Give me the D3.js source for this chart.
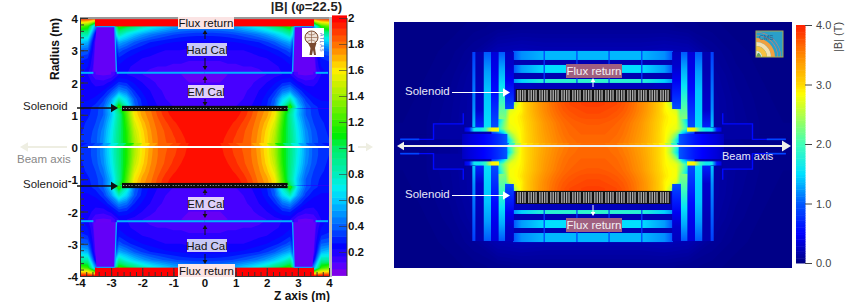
<!DOCTYPE html>
<html>
<head>
<meta charset="utf-8">
<script src="https://cdn.jsdelivr.net/npm/d3@7"></script>
<style>
  body { margin: 0; background: #fff; }
  svg { display: block; font-family: "Liberation Sans", Arial, sans-serif; }
  .soft { filter: blur(0.45px); }
  .softer { filter: blur(0.6px); }
  .atlas-axis text { font-weight: bold; font-size: 11.5px; fill: #111; }
  .atlas-axis line, .atlas-axis path { stroke: #333; }
</style>
</head>
<body>
<div id="chart"></div>
<script>
// ---- left panel: field, one quadrant (z = 0..4 m, 0.25 m steps)
var atlasBoreR0 = 0, atlasBoreStep = 0.25;
var atlasBore = [
  [2.0, 2.0, 1.96, 1.92, 1.88, 1.84, 1.8, 1.72, 1.6, 1.42, 1.15, .95, .72, .5, .38, .33, .3],
  [2.0, 2.0, 1.97, 1.93, 1.89, 1.85, 1.8, 1.73, 1.61, 1.43, 1.15, .95, .7, .5, .38, .33, .3],
  [2.0, 2.0, 1.98, 1.95, 1.91, 1.86, 1.81, 1.74, 1.63, 1.47, 1.16, .94, .68, .48, .37, .32, .29],
  [2.0, 2.0, 2.0, 1.97, 1.94, 1.89, 1.83, 1.76, 1.67, 1.53, 1.2, .92, .64, .44, .35, .31, .28],
  [2.0, 2.0, 2.0, 2.0, 1.97, 1.93, 1.86, 1.78, 1.72, 1.6, 1.25, .9, .58, .4, .33, .29, .27],
  [2.0, 2.0, 2.0, 2.0, 1.98, 1.95, 1.88, 1.8, 1.74, 1.62, 1.3, 1.05, .6, .4, .32, .28, .27]
];
var atlasOuterR0 = 1, atlasOuterStep = 0.25;
var atlasOuter = [
  [.2, .2, .2, .2, .2, .22, .25, .3, .4, .55, .8, 1.05, .62, .42, .35, .3, .28],
  [.13, .13, .13, .14, .15, .17, .2, .24, .3, .42, .8, 1.2, .62, .4, .32, .28, .27],
  [.12, .12, .12, .13, .14, .15, .18, .22, .28, .38, .62, .8, .5, .33, .26, .24, .24],
  [.11, .11, .11, .12, .13, .14, .16, .2, .24, .3, .42, .48, .34, .25, .22, .22, .23],
  [.1, .1, .1, .11, .12, .13, .14, .17, .2, .24, .29, .31, .22, .17, .18, .22, .25],
  [.09, .09, .09, .1, .1, .11, .12, .13, .15, .18, .2, .2, .1, .09, .1, .2, .26],
  [.13, .13, .13, .14, .14, .15, .15, .16, .17, .19, .21, .24, .1, .09, .1, .25, .27],
  [.16, .16, .16, .17, .17, .17, .18, .19, .2, .22, .25, .29, .1, .09, .1, .3, .32],
  [.19, .19, .19, .2, .2, .2, .21, .23, .25, .28, .32, .38, .1, .09, .1, .4, .42],
  [.23, .23, .23, .24, .25, .26, .28, .3, .34, .39, .47, .54, .1, .09, .1, .55, .6],
  [.32, .32, .33, .34, .36, .39, .42, .46, .52, .6, .7, .85, .3, .1, .2, .85, .85],
  [.5, .5, .5, .52, .56, .62, .68, .76, .85, 1.0, 1.1, 1.2, .5, .5, .5, 1.2, 1.3],
  [2, 2, 2, 2, 2, 2, 2, 2, 2, 2, 2, 2, 2, 2, 2, 2, 2]
];
var atlasStops = [0.02, .1, .25, .4, .6, .7, .8, 1.0, 1.1, 1.4, 1.6, 1.8, 2];
var atlasColors = ["#9000e0", "#5500ff", "#0000ff", "#0060ff", "#00ccff", "#00f0f0", "#00eebb", "#00ee66", "#00ee00", "#a0f000", "#ffee00", "#ff7000", "#ff0000"];
var atlasPillar = [[2.83, 2.33], [2.88, 3.73], [3.47, 3.73], [3.57, 2.33]];
var atlasCryostat = [[0, 2.82], [3.57, 3.97]];
var atlasBars = {rIn: 3.74, rOut: 4, zMax: 3.52, value: 2, pillar: .08, edge: .55, cryoR: 2.3};
var atlasColorTicks = [.2, .4, .6, .8, 1, 1.2, 1.4, 1.6, 1.8, 2];

// ---- right panel: same idea, z = 0..8.5 m in 0.5 m steps, r = 0..4 m in 0.5 m steps
var cmsBoreStepZ = 0.5, cmsBoreStepR = 0.5;
var cmsBore = [
  [3.65, 3.65, 3.65, 3.62, 3.6, 3.55, 3.5, 3.42, 3.35, 3.25, 3.15, 3.02, 2.9, 2.55, 1.9, 1.1, .7, .6],
  [3.66, 3.66, 3.66, 3.64, 3.62, 3.57, 3.52, 3.44, 3.36, 3.26, 3.15, 3.02, 2.9, 2.5, 1.7, .9, .7, .6],
  [3.68, 3.68, 3.68, 3.66, 3.64, 3.6, 3.54, 3.46, 3.38, 3.28, 3.16, 3.02, 2.9, 2.7, 2.3, 1.2, .8, .7],
  [3.7, 3.7, 3.7, 3.68, 3.66, 3.62, 3.56, 3.48, 3.4, 3.29, 3.17, 3.04, 2.9, 2.8, 2.75, 2.3, 1.8, 1.4],
  [3.73, 3.73, 3.72, 3.7, 3.68, 3.64, 3.58, 3.5, 3.42, 3.3, 3.18, 3.05, 2.92, 2.85, 2.8, 2.2, 1.5, 1.0],
  [3.78, 3.78, 3.77, 3.75, 3.72, 3.68, 3.62, 3.55, 3.46, 3.35, 3.22, 3.08, 2.95, 2.85, 2.8, 2.0, 1.2, .9],
  [3.82, 3.82, 3.8, 3.78, 3.76, 3.72, 3.66, 3.58, 3.5, 3.38, 3.25, 3.1, 2.9, 2.8, 2.7, 1.9, 1.0, .7],
  [3.85, 3.85, 3.84, 3.82, 3.8, 3.75, 3.68, 3.6, 3.5, 3.4, 3.25, 3.1, 2.92, 2.6, 1.2, .9, .7, .5],
  [3.85, 3.85, 3.84, 3.82, 3.8, 3.75, 3.68, 3.6, 3.5, 3.4, 3.25, 3.1, 2.9, 2.5, 1.0, .6, .4, .3]
];
// faint glow around the yoke, z = 0..16 m and r = 0..10 m in 2 m steps
var cmsGlow = [
  [.24, .24, .24, .24, .24, .16, .1, .06, .04],
  [.24, .24, .24, .24, .24, .16, .1, .06, .04],
  [.24, .24, .24, .24, .24, .16, .09, .05, .03],
  [.22, .22, .22, .24, .22, .14, .07, .04, .03],
  [.2, .2, .2, .22, .2, .1, .05, .03, .02],
  [.09, .09, .09, .09, .07, .05, .03, .02, .02]
];
var cmsStops = [0, .5, 1, 1.5, 2, 2.5, 2.85, 3, 3.5, 4];
var cmsColors = ["#00007f", "#0000ff", "#0058ff", "#00e0ff", "#40ffb8", "#b0ff48", "#ffff00", "#ffd800", "#ff8800", "#ff2000"];
// barrel yoke layers: r range and |B| from the outer end to z = 0
var cmsYokeZ = [6.72, 6, 4, 0];
var cmsYoke = [
  {r0: 7.27, r1: 8.03, values: [.95, 1.2, 1.35, 1.35]},
  {r0: 6.18, r1: 6.85, values: [.95, 1.25, 1.5, 1.5]},
  {r0: 5.34, r1: 5.67, values: [1.2, 1.45, 1.8, 1.85]}
];
var cmsYokeGaps = [-4.1, -1.35, 1.35, 4.1];
// endcap disks: |B| going from the inner radius out to r = 7.94 m
var cmsCaps = [
  {z0: 6.65, z1: 7.39, r0: 3.15, values: [.95, .7, .45, .3, .25]},
  {z0: 7.39, z1: 7.95, r0: 2.3, values: [2.3, 1.95, 1.55, 1.3, 1.0]},
  {z0: 7.95, z1: 8.57, r0: 1.5, values: [.95, .75, .55, .42, .35]},
  {z0: 8.57, z1: 9.2, r0: 1.39, values: [1.55, 1.45, 1.4, 1.25, 1.0]},
  {z0: 9.2, z1: 9.88, r0: 1.5, values: [.7, .3, .25, .2, .2]},
  {z0: 9.88, z1: 10.14, r0: 1.64, values: [1.4, 1.2, 1.1, 1.0, .85]}
];
var cmsCapOuter = 7.94;
var cmsStripZ = [7.9, 8.5, 9, 9.5, 10, 10.4, 10.8];
var cmsStrip = [2.8, 2.9, 1.9, 1.6, 1.6, .6, .4];
var cmsNoseZ = [7.2, 8, 8.6, 9.2, 9.8, 10.4, 11];
var cmsNose = [1.0, .75, .6, .5, .42, .35, .25];
var cmsForward = [[10.9, 2.8], [10.9, 1.9], [13.4, 1.9], [13.4, .6], [16.2, .6]];
var cmsTail = [[14.6, .6], [16.2, .6]];
var cmsColorTicks = [0, 1, 2, 3, 4];

var width = 847, height = 302;
var svg = d3.select("#chart").append("svg").attr("width", width).attr("height", height);
var defs = svg.append("defs");

var clipCount = 0;
function clipRect(x0, y0, x1, y1) {
  var id = "clip" + (clipCount++);
  defs.append("clipPath").attr("id", id).append("rect")
    .attr("x", Math.min(x0, x1)).attr("y", Math.min(y0, y1))
    .attr("width", Math.abs(x1 - x0)).attr("height", Math.abs(y1 - y0));
  return "url(#" + id + ")";
}

// quadrant rows -> mirrored in z -> filled contour bands. sign flips to the lower half
function fieldLayer(g, rows, zStep, r0, rStep, x, y, color, sign, step, top) {
  var full = rows.map(function(row) { return row.slice(1).reverse().concat(row); });
  var n = full[0].length, m = full.length;
  var zMax = (rows[0].length - 1) * zStep;
  var levels = d3.range(0, top, step);
  var contours = d3.contours().size([n, m]).thresholds(levels)(full.flat());
  var path = d3.geoPath(d3.geoTransform({
    point: function(px, py) {
      this.stream.point(x(-zMax + (px - .5) * zStep), y(sign * (r0 + (py - .5) * rStep)));
    }
  }));
  g.selectAll(null).data(contours).enter().append("path")
    .attr("d", path)
    .attr("fill", function(d) { return color(d.value + step / 2); });
}

var gradCount = 0;
function gradient(x1, y1, x2, y2, values, color) {
  var id = "grad" + (gradCount++);
  var lg = defs.append("linearGradient").attr("id", id).attr("gradientUnits", "userSpaceOnUse")
    .attr("x1", x1).attr("y1", y1).attr("x2", x2).attr("y2", y2);
  values.forEach(function(v) {
    lg.append("stop").attr("offset", v[0]).attr("stop-color", color(v[1]));
  });
  return "url(#" + id + ")";
}

function arrow(g, x1, y1, x2, y2, col, w, head) {
  var a = Math.atan2(y2 - y1, x2 - x1);
  g.append("line").attr("x1", x1).attr("y1", y1)
    .attr("x2", x2 - Math.cos(a) * head * .8).attr("y2", y2 - Math.sin(a) * head * .8)
    .attr("stroke", col).attr("stroke-width", w);
  var hw = head * .6;
  var pts = [[x2, y2],
    [x2 - Math.cos(a) * head - Math.sin(a) * hw, y2 - Math.sin(a) * head + Math.cos(a) * hw],
    [x2 - Math.cos(a) * head + Math.sin(a) * hw, y2 - Math.sin(a) * head - Math.cos(a) * hw]];
  g.append("polygon").attr("points", pts.join(" ")).attr("fill", col);
}

// ================ left panel ================
var ax = d3.scaleLinear().domain([-4, 4]).range([80, 329]);
var ay = d3.scaleLinear().domain([4, -4]).range([18, 276]);
var aColor = d3.scaleLinear().domain(atlasStops).range(atlasColors).clamp(true);

var left = svg.append("g");
var aField = left.append("g").attr("class", "soft").attr("clip-path", clipRect(ax(-4), ay(4), ax(4), ay(-4)));

aField.append("g").attr("clip-path", clipRect(ax(-4), ay(1.2), ax(4), ay(-1.2))).call(function(g) {
  fieldLayer(g, atlasBore, .25, atlasBoreR0, atlasBoreStep, ax, ay, aColor, 1, .05, 2);
  fieldLayer(g, atlasBore, .25, atlasBoreR0, atlasBoreStep, ax, ay, aColor, -1, .05, 2);
});
aField.append("g").attr("clip-path", clipRect(ax(-4), ay(4), ax(4), ay(1.2))).call(function(g) {
  fieldLayer(g, atlasOuter, .25, atlasOuterR0, atlasOuterStep, ax, ay, aColor, 1, .05, 2);
});
aField.append("g").attr("clip-path", clipRect(ax(-4), ay(-1.2), ax(4), ay(-4))).call(function(g) {
  fieldLayer(g, atlasOuter, .25, atlasOuterR0, atlasOuterStep, ax, ay, aColor, -1, .05, 2);
});

[1, -1].forEach(function(sr) {
  // flux return band
  aField.append("rect")
    .attr("x", ax(-atlasBars.zMax)).attr("width", ax(atlasBars.zMax) - ax(-atlasBars.zMax))
    .attr("y", Math.min(ay(sr * atlasBars.rIn), ay(sr * atlasBars.rOut)))
    .attr("height", Math.abs(ay(atlasBars.rIn) - ay(atlasBars.rOut)))
    .attr("fill", aColor(atlasBars.value));
  [1, -1].forEach(function(sz) {
    // tile calorimeter end pillars
    aField.append("polygon")
      .attr("points", atlasPillar.map(function(p) { return [ax(sz * p[0]), ay(sr * p[1])]; }).join(" "))
      .attr("fill", aColor(atlasBars.pillar));
    aField.append("line")
      .attr("x1", ax(sz * atlasPillar[0][0])).attr("y1", ay(sr * atlasPillar[0][1]))
      .attr("x2", ax(sz * atlasPillar[1][0])).attr("y2", ay(sr * atlasPillar[1][1]))
      .attr("stroke", aColor(atlasBars.edge)).attr("stroke-width", 1.3);
    aField.append("line")
      .attr("x1", ax(sz * atlasPillar[1][0])).attr("y1", ay(sr * atlasPillar[1][1]))
      .attr("x2", ax(sz * atlasPillar[2][0])).attr("y2", ay(sr * atlasPillar[2][1]))
      .attr("stroke", aColor(atlasBars.edge)).attr("stroke-width", 1);
    atlasCryostat.forEach(function(s) {
      aField.append("line")
        .attr("x1", ax(sz * s[0])).attr("x2", ax(sz * s[1]))
        .attr("y1", ay(sr * atlasBars.cryoR)).attr("y2", ay(sr * atlasBars.cryoR))
        .attr("stroke", aColor(atlasBars.edge)).attr("stroke-width", 2);
    });
  });
  // solenoid coil
  var yc = ay(sr * 1.195);
  left.append("rect").attr("x", ax(-2.65)).attr("y", yc - 2.6)
    .attr("width", ax(2.67) - ax(-2.65)).attr("height", 5.2).attr("fill", "#0c0c0c");
  left.append("line").attr("x1", ax(-2.65) + 1).attr("x2", ax(2.67)).attr("y1", yc).attr("y2", yc)
    .attr("stroke", "#999").attr("stroke-width", 1.1)
    .attr("stroke-dasharray", "1.2 1.6 1.2 1.6 1.2 1.6 1.2 2.8");
});

// beam line
left.append("line").attr("x1", 88).attr("x2", ax(4)).attr("y1", ay(0)).attr("y2", ay(0))
  .attr("stroke", "#fff").attr("stroke-width", 2);

// frame
left.append("rect").attr("x", ax(-4)).attr("y", 17).attr("width", 250).attr("height", 2.2).attr("fill", "#999");
left.append("rect").attr("x", 329).attr("y", 17).attr("width", 3).attr("height", 260).attr("fill", "#bbb");

// axes, ticks pointing in
var plainNum = function(d) { return String(d); };
var xAxis = d3.axisBottom(ax).tickValues(d3.range(-4, 5)).tickSizeInner(-8).tickSizeOuter(0).tickPadding(3).tickFormat(plainNum);
var xMinor = d3.axisBottom(ax).tickValues(d3.range(-4, 4.01, .2)).tickSizeInner(-4).tickSizeOuter(0).tickFormat("");
var yAxis = d3.axisLeft(ay).tickValues(d3.range(-4, 5)).tickSizeInner(-8).tickSizeOuter(0).tickPadding(2).tickFormat(plainNum);
var yMinor = d3.axisLeft(ay).tickValues(d3.range(-4, 4.01, .2)).tickSizeInner(-4).tickSizeOuter(0).tickFormat("");
left.append("g").attr("class", "atlas-axis").attr("transform", "translate(0," + ay(-4) + ")").call(xMinor);
left.append("g").attr("class", "atlas-axis").attr("transform", "translate(0," + ay(-4) + ")").call(xAxis);
left.append("g").attr("class", "atlas-axis").attr("transform", "translate(" + ax(-4) + ",0)").call(yMinor);
left.append("g").attr("class", "atlas-axis").attr("transform", "translate(" + ax(-4) + ",0)").call(yAxis)
  .selectAll(".tick text").attr("dy", ".4em");

left.append("text").attr("transform", "translate(59,49) rotate(-90)").attr("text-anchor", "middle")
  .attr("font-weight", "bold").attr("font-size", 12).attr("fill", "#111").text("Radius (m)");
left.append("text").attr("x", 330).attr("y", 300).attr("text-anchor", "end")
  .attr("font-weight", "bold").attr("font-size", 12).attr("fill", "#111").text("Z axis (m)");
left.append("text").attr("x", 342).attr("y", 11).attr("text-anchor", "end")
  .attr("font-weight", "bold").attr("font-size", 13).attr("fill", "#222").text("|B| (φ=22.5)");

// color bar
var acy = d3.scaleLinear().domain([0, 2]).range([278, 18]);
left.append("g").selectAll("rect").data(d3.range(0.02, 2, .05)).enter().append("rect")
  .attr("x", 332).attr("width", 15)
  .attr("y", function(d) { return acy(d + .05); })
  .attr("height", function(d) { return acy(d) - acy(d + .05) + .5; })
  .attr("fill", function(d) { return aColor(d + .025); });
left.append("line").attr("x1", 347).attr("x2", 347).attr("y1", 18).attr("y2", 276).attr("stroke", "#333");
var cbAxis = d3.axisRight(acy).tickValues(atlasColorTicks).tickSizeInner(-8).tickSizeOuter(0).tickPadding(1).tickFormat(d3.format("~g"));
left.append("g").attr("class", "atlas-axis").attr("transform", "translate(347,0)").call(cbAxis)
  .call(function(g) { g.select(".domain").remove(); g.selectAll(".tick line").attr("stroke-opacity", .6); });

// boxes and small arrows
var atlasLabels = [
  ["Flux return", 178, 234, 17, 29, "#fbe4e4"], ["Had Cal", 187, 227, 43, 56, "#c9c9f7"], ["EM Cal", 188, 224, 85, 98, "#e0d0fb"],
  ["EM Cal", 188, 224, 197, 210, "#e0d0fb"], ["Had Cal", 187, 227, 239, 252, "#c9c9f7"], ["Flux return", 178, 235, 264, 277, "#fbe4e4"]
];
atlasLabels.forEach(function(d) {
  left.append("rect").attr("x", d[1]).attr("y", d[3]).attr("width", d[2] - d[1]).attr("height", d[4] - d[3]).attr("fill", d[5]);
  left.append("text").attr("x", (d[1] + d[2]) / 2).attr("y", (d[3] + d[4]) / 2 + 4).attr("text-anchor", "middle")
    .attr("font-size", 11.5).attr("fill", "#111").text(d[0]);
});
[[39, 30], [58, 70], [83, 76], [99, 106], [195, 189], [211, 218], [235, 225], [254, 264]].forEach(function(d) {
  arrow(left, 205, d[0], 205, d[1], "#111", 1, 4);
});

left.append("text").attr("x", 23).attr("y", 110).attr("font-size", 11.5).attr("fill", "#222").text("Solenoid");
left.append("text").attr("x", 23).attr("y", 188).attr("font-size", 11.5).attr("fill", "#222").text("Solenoid");
arrow(left, 77, 108, 118, 108, "#111", 1.3, 7);
arrow(left, 77, 186, 118, 186, "#111", 1.3, 7);
left.append("text").attr("x", 17).attr("y", 163).attr("font-size", 11.5).attr("fill", "#888").text("Beam axis");
arrow(left, 67, 147, 20, 147, "#eeeee2", 2, 8);
arrow(left, 358, 147, 373, 147, "#eeeee2", 2, 7);

// small ATLAS logo
var aLogo = left.append("g").attr("transform", "translate(302,28)");
aLogo.append("rect").attr("width", 22).attr("height", 29).attr("fill", "#fff");
aLogo.append("circle").attr("cx", 9.5).attr("cy", 9.5).attr("r", 6.5).attr("fill", "#eee2d8").attr("stroke", "#7a4a30").attr("stroke-width", 1);
aLogo.append("path").attr("d", "M3 9.5H16M9.5 3V16M5 5Q9.5 9 14 5M5 14Q9.5 10 14 14").attr("fill", "none").attr("stroke", "#8a5a40").attr("stroke-width", .6);
aLogo.append("path").attr("d", "M6 15L8.5 20L7.5 27H10L11 22L12 27H14L13 20L14.5 15Z").attr("fill", "#7a4a30");
aLogo.append("text").attr("transform", "translate(18,5) rotate(90)").attr("font-size", 5).attr("letter-spacing", .8).attr("fill", "#3a5fc0").text("ATLAS");

// ================ right panel ================
var cx = d3.scaleLinear().domain([-16.72, 16.72]).range([394, 792]);
var cy = d3.scaleLinear().domain([10.46, -10.21]).range([22, 268]);
var cColor = d3.scaleLinear().domain(cmsStops).range(cmsColors).clamp(true);

var right = svg.append("g");
var cField = right.append("g").attr("class", "softer").attr("clip-path", clipRect(cx.range()[0], cy(10.46), cx.range()[1], cy(-10.21)));
cField.append("rect").attr("x", 394).attr("y", 22).attr("width", 398).attr("height", 246).attr("fill", cColor(.04));

[1, -1].forEach(function(sr) {
  fieldLayer(cField.append("g"), cmsGlow, 2, 0, 2, cx, cy, cColor, sr, .02, .34);
});
var boreClip = clipRect(cx(-8.5), cy(3.74), cx(8.5), cy(-3.74));
cField.append("g").attr("clip-path", boreClip).call(function(g) {
  fieldLayer(g, cmsBore, cmsBoreStepZ, 0, cmsBoreStepR, cx, cy, cColor, 1, .04, 4);
  fieldLayer(g, cmsBore, cmsBoreStepZ, 0, cmsBoreStepR, cx, cy, cColor, -1, .04, 4);
});

function gradRect(z0, z1, r0, r1, fill) {
  cField.append("rect")
    .attr("x", Math.min(cx(z0), cx(z1))).attr("width", Math.abs(cx(z1) - cx(z0)))
    .attr("y", Math.min(cy(r0), cy(r1))).attr("height", Math.abs(cy(r1) - cy(r0)))
    .attr("fill", fill);
}

[1, -1].forEach(function(sr) {
  // yoke barrel: dark filler and then the three layers
  gradRect(-6.72, 6.72, sr * 5.34, sr * 8.03, cColor(.2));
  cmsYoke.forEach(function(b) {
    var zs = cmsYokeZ.slice().reverse();
    var vs = b.values.slice().reverse();
    var stops = [];
    [-1, 1].forEach(function(s) {
      var list = zs.map(function(z, i) { return [(s * z + 6.72) / 13.44, vs[i]]; });
      if (s === 1) stops = stops.concat(list);
      else stops = stops.concat(list.reverse());
    });
    gradRect(-6.72, 6.72, sr * b.r0, sr * b.r1, gradient(cx(-6.72), 0, cx(6.72), 0, stops, cColor));
  });
  cmsYokeGaps.forEach(function(z) {
    cField.append("line").attr("x1", cx(z)).attr("x2", cx(z)).attr("y1", cy(sr * 5.34)).attr("y2", cy(sr * 8.03))
      .attr("stroke", cColor(.85)).attr("stroke-width", 1.2);
  });
  [1, -1].forEach(function(sz) {
    // dim block behind the forward structure
    gradRect(sz * 10.9, sz * 13.4, sr * .6, sr * 1.9, cColor(.15));
    var fwd = d3.line().x(function(d) { return cx(sz * d[0]); }).y(function(d) { return cy(sr * d[1]); });
    cField.append("path").attr("d", fwd(cmsForward)).attr("fill", "none")
      .attr("stroke", cColor(.55)).attr("stroke-width", 1.4);
    cField.append("path").attr("d", fwd(cmsTail)).attr("fill", "none")
      .attr("stroke", cColor(.9)).attr("stroke-width", 1.6);
    // endcap disks
    cmsCaps.forEach(function(c) {
      var last = c.values.length - 1;
      var stops = c.values.map(function(v, i) { return [i / last, v]; });
      gradRect(sz * c.z0, sz * c.z1, sr * c.r0, sr * cmsCapOuter,
        gradient(0, cy(sr * c.r0), 0, cy(sr * cmsCapOuter), stops, cColor));
    });
    var zr = function(list, z) { return list.map(function(v, i) { return [(z[i] - z[0]) / (z[z.length - 1] - z[0]), v]; }); };
    gradRect(sz * cmsStripZ[0], sz * cmsStripZ[cmsStripZ.length - 1], sr * 1.25, sr * 1.6,
      gradient(cx(sz * cmsStripZ[0]), 0, cx(sz * cmsStripZ[cmsStripZ.length - 1]), 0, zr(cmsStrip, cmsStripZ), cColor));
    gradRect(sz * cmsNoseZ[0], sz * cmsNoseZ[cmsNoseZ.length - 1], 0, sr * 1.05,
      gradient(cx(sz * cmsNoseZ[0]), 0, cx(sz * cmsNoseZ[cmsNoseZ.length - 1]), 0, zr(cmsNose, cmsNoseZ), cColor));
  });
  // solenoid coil
  var yc = cy(sr * 4.28);
  right.append("rect").attr("x", cx(-6.5)).attr("y", yc - 6.5).attr("width", cx(6.5) - cx(-6.5)).attr("height", 13).attr("fill", "#111");
  right.append("line").attr("x1", cx(-6.5) + 1.5).attr("x2", cx(6.5) - 1).attr("y1", yc).attr("y2", yc)
    .attr("stroke", "#aaa").attr("stroke-width", 11)
    .attr("stroke-dasharray", "1.4 1 1.4 1 1.4 1 1.4 2.4");
});

// beam axis arrow
arrow(right, 593, 146, 791, 146, "#f0f0ec", 2, 9);
arrow(right, 593, 146, 397, 146, "#f0f0ec", 2, 7);
right.append("text").attr("x", 722).attr("y", 160).attr("font-size", 11).attr("fill", "#e8e8f8").text("Beam axis");

[[64, 78], [218, 232]].forEach(function(d) {
  right.append("rect").attr("x", 566).attr("y", d[0]).attr("width", 56).attr("height", d[1] - d[0]).attr("fill", "#a06080");
  right.append("text").attr("x", 594).attr("y", d[0] + 11).attr("text-anchor", "middle")
    .attr("font-size", 11.5).attr("fill", "#f4f0f4").text("Flux return");
});
arrow(right, 593, 87, 593, 78, "#fff", 1, 4);
arrow(right, 593, 205, 593, 216, "#fff", 1, 4);

[94, 197].forEach(function(y) {
  right.append("text").attr("x", 405).attr("y", y + 1).attr("font-size", 11.5).attr("fill", "#e8e8f8").text("Solenoid");
  arrow(right, 452, y - 1.5, 510, y - 1.5, "#fff", 1.2, 7);
});

// color bar
var ccy = d3.scaleLinear().domain([0, 4]).range([263, 25]);
right.append("g").selectAll("rect").data(d3.range(0, 4, .04)).enter().append("rect")
  .attr("x", 796).attr("width", 9.5)
  .attr("y", function(d) { return ccy(d + .04); })
  .attr("height", function(d) { return ccy(d) - ccy(d + .04) + .5; })
  .attr("fill", function(d) { return cColor(d + .02); });
var ccAxis = d3.axisRight(ccy).tickValues(cmsColorTicks).tickSizeInner(7).tickSizeOuter(0).tickPadding(4).tickFormat(d3.format(".1f"));
right.append("g").attr("transform", "translate(805,0)").call(ccAxis)
  .call(function(g) {
    g.select(".domain").remove();
    g.selectAll(".tick line").attr("stroke", "#444");
    g.selectAll(".tick text").attr("fill", "#444").attr("font-size", 11).attr("font-family", "Liberation Sans");
  });
right.append("text").attr("transform", "translate(842,37) rotate(-90)").attr("text-anchor", "middle")
  .attr("font-size", 11).attr("fill", "#444").text("|B| (T)");

// small CMS logo
var cLogo = right.append("g").attr("transform", "translate(756,31)");
cLogo.append("rect").attr("width", 27).attr("height", 26).attr("fill", "#2a9fc9");
var ring = d3.arc().startAngle(0).endAngle(Math.PI / 2);
[[15, 19, "#f0a040"], [11, 15, "#f4e0b0"], [6, 11, "#f7c040"], [0, 6, "#f6f2e8"]].forEach(function(d) {
  cLogo.append("path").attr("transform", "translate(0,26)")
    .attr("d", ring({innerRadius: d[0], outerRadius: d[1]})).attr("fill", d[2]);
});
[21.5, 24.5].forEach(function(rad) {
  cLogo.append("path").attr("transform", "translate(0,26)")
    .attr("d", ring({innerRadius: rad, outerRadius: rad + .6})).attr("fill", "#d08070");
});
cLogo.append("path").attr("transform", "translate(0,26)").attr("d", d3.arc().startAngle(.4).endAngle(Math.PI / 2)({innerRadius: 0, outerRadius: 5})).attr("fill", "#60a060");
cLogo.append("text").attr("x", 3).attr("y", 9).attr("font-size", 6.5).attr("fill", "#1a5f90").text("CMS");
cLogo.append("rect").attr("width", 27).attr("height", 26).attr("fill", "none").attr("stroke", "#a8a848").attr("stroke-width", 1);
</script>
</body>
</html>
